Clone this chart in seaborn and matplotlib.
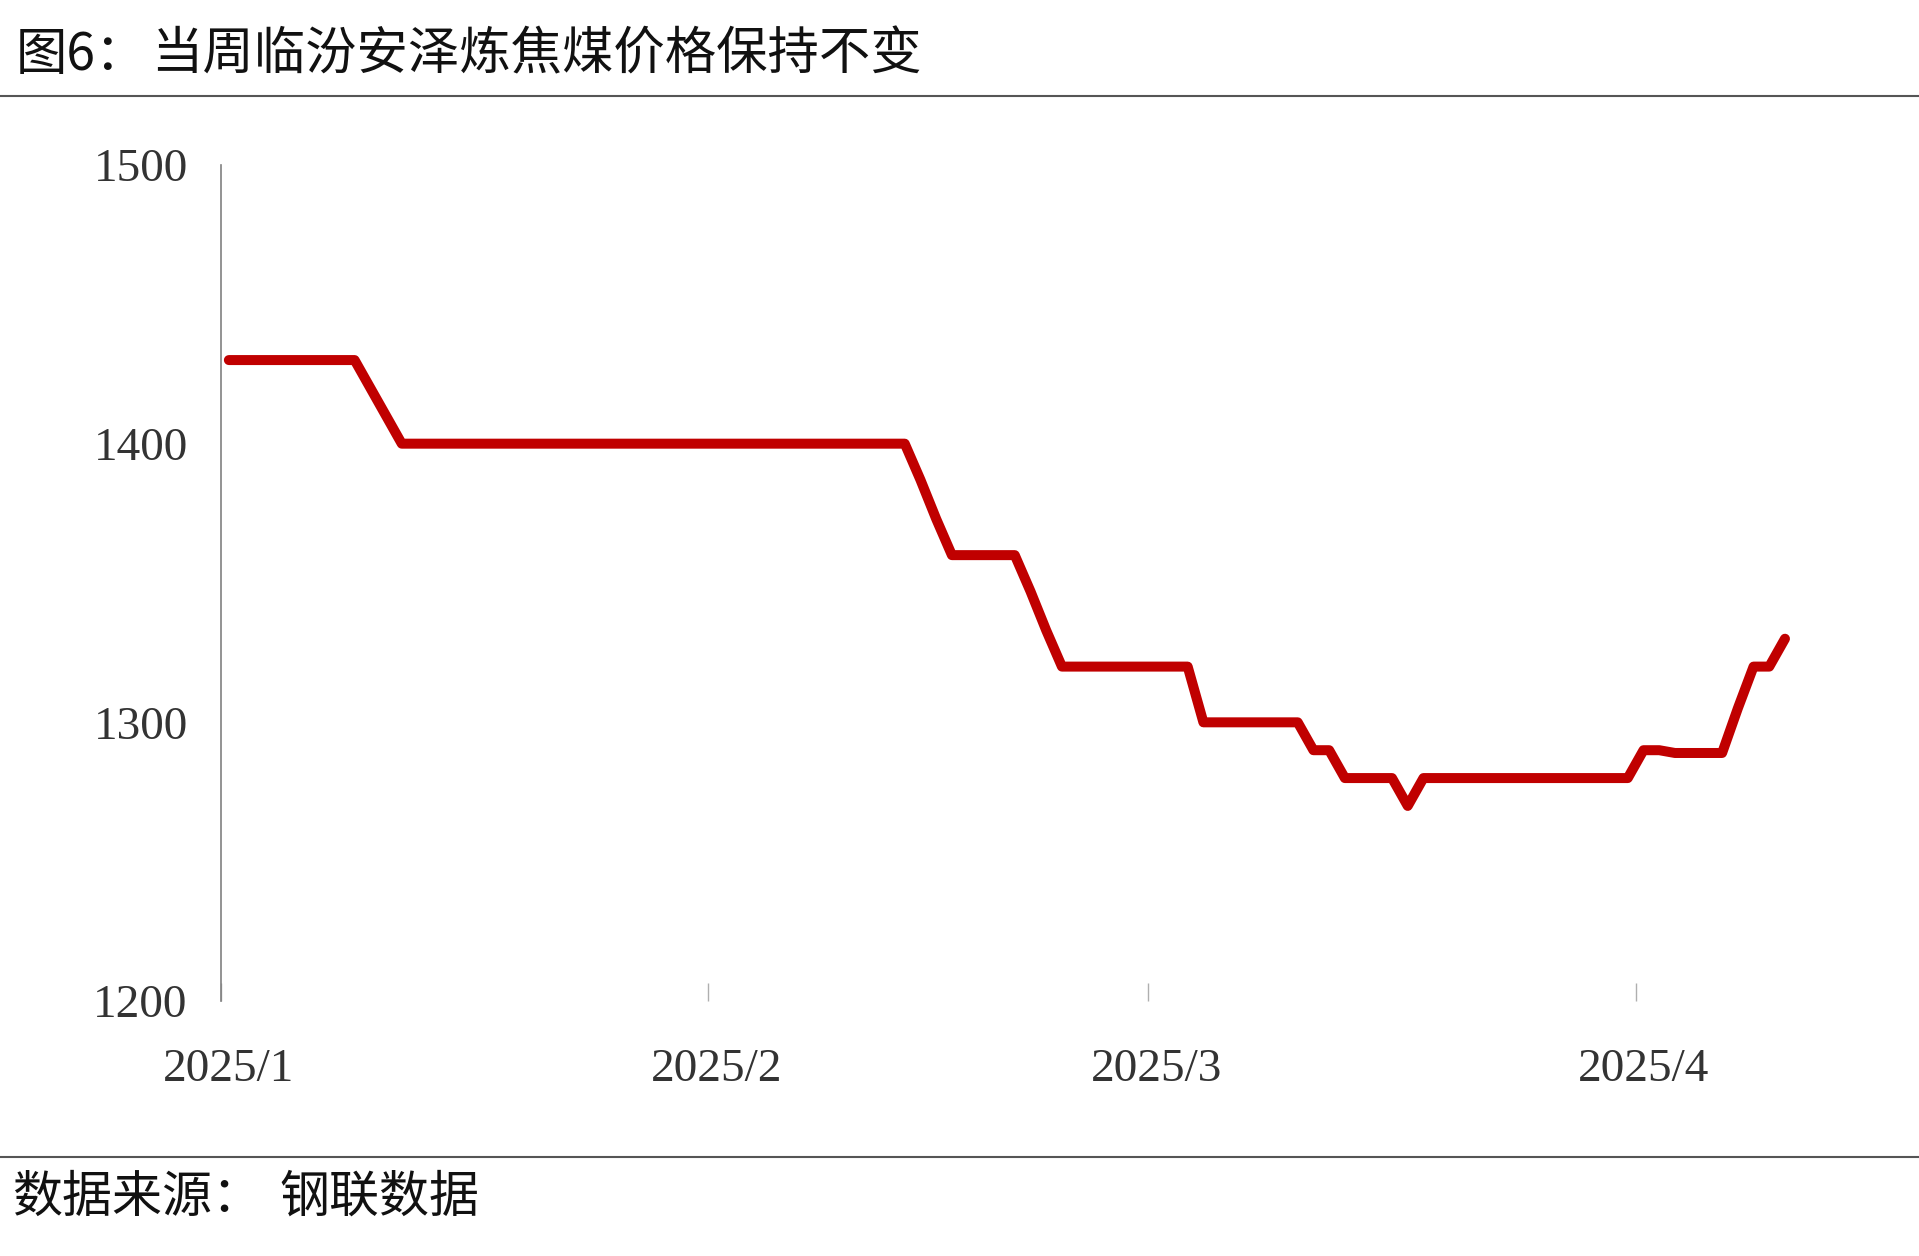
import numpy as np
import pandas as pd
import matplotlib
matplotlib.use("Agg")
import matplotlib.pyplot as plt
import matplotlib.dates as mdates
from matplotlib.lines import Line2D
import seaborn as sns

# ---------------- data ----------------
title_prefix = "图6："
title_text = "当周临汾安泽炼焦煤价格保持不变"
source_prefix = "数据来源："
source_text = "钢联数据"

start_date = "2025-01-01"
end_date = "2025-04-10"

# daily price (yuan/ton), 2025-01-01 .. 2025-04-10
prices = [
    1430, 1430, 1430, 1430, 1430, 1430, 1430, 1430, 1430,          # Jan 1-9
    1420, 1410,                                                    # Jan 10-11
    1400, 1400, 1400, 1400, 1400, 1400, 1400, 1400, 1400, 1400,    # Jan 12-21
    1400, 1400, 1400, 1400, 1400, 1400, 1400, 1400, 1400, 1400,    # Jan 22-31
    1400, 1400, 1400, 1400, 1400, 1400, 1400, 1400, 1400, 1400,    # Feb 1-10
    1400, 1400, 1400,                                              # Feb 11-13
    1387, 1373,                                                    # Feb 14-15
    1360, 1360, 1360, 1360, 1360,                                  # Feb 16-20
    1347, 1333,                                                    # Feb 21-22
    1320, 1320, 1320, 1320, 1320, 1320, 1320, 1320, 1320,          # Feb 23 - Mar 3
    1300, 1300, 1300, 1300, 1300, 1300, 1300,                      # Mar 4-10
    1290, 1290,                                                    # Mar 11-12
    1280, 1280, 1280, 1280,                                        # Mar 13-16
    1270,                                                          # Mar 17
    1280, 1280, 1280, 1280, 1280, 1280, 1280,                      # Mar 18-24
    1280, 1280, 1280, 1280, 1280, 1280, 1280,                      # Mar 25-31
    1290, 1290, 1289, 1289, 1289, 1289,                            # Apr 1-6
    1305, 1320, 1320, 1330,                                        # Apr 7-10
]

month_ticks = ["2025-01-01", "2025-02-01", "2025-03-01", "2025-04-01"]
month_labels = ["2025/1", "2025/2", "2025/3", "2025/4"]
y_ticks = [1200, 1300, 1400, 1500]
y_labels = ["1200", "1300", "1400", "1500"]

dates = pd.date_range(start_date, end_date, freq="D")
df = pd.DataFrame({"date": dates, "price": prices})

# ---------------- style ----------------
sns.set_theme(style="white")
plt.rcParams["font.family"] = ["Noto Sans CJK SC", "DejaVu Sans"]

W, H = 1919, 1256
fig = plt.figure(figsize=(W / 100, H / 100), dpi=100)
fig.patch.set_facecolor("white")

ax_left, ax_right = 221, 1873
ax_top, ax_bottom = 165, 1001
ax = fig.add_axes([ax_left / W, 1 - ax_bottom / H,
                   (ax_right - ax_left) / W, (ax_bottom - ax_top) / H])
ax.set_facecolor("white")

sns.lineplot(data=df, x="date", y="price", ax=ax, color="#C00000",
             linewidth=7.2, solid_capstyle="round", solid_joinstyle="round")

# x axis: each day occupies a slot; points sit at the slot centre
x0 = mdates.date2num(pd.Timestamp(start_date)) - 0.5
ax.set_xlim(x0, x0 + 105.1)
ax.set_ylim(1200, 1500)

tick_nums = [mdates.date2num(pd.Timestamp(d)) for d in month_ticks]
ax.set_xticks(tick_nums)
ax.set_xticklabels(month_labels, fontfamily="Liberation Serif")
ax.set_xticks([t - 0.5 for t in tick_nums], minor=True)
ax.tick_params(axis="x", which="major", length=0, pad=34,
               labelsize=34, labelcolor="#333333")
ax.tick_params(axis="x", which="minor", direction="in", length=13,
               width=1.0, color="#AFAFAF", bottom=True)

ax.set_yticks(y_ticks)
ax.set_yticklabels(y_labels, fontfamily="Liberation Serif")
ax.tick_params(axis="y", length=0, pad=24, labelsize=34, labelcolor="#333333")

ax.set_xlabel("")
ax.set_ylabel("")
ax.grid(False)
for s in ["top", "right", "bottom"]:
    ax.spines[s].set_visible(False)
ax.spines["left"].set_color("#808080")
ax.spines["left"].set_linewidth(1.2)

# ---------------- title / source / rules ----------------
fig.text(16 / W, 1 - 55 / H, title_prefix, fontsize=37, ha="left", va="center",
         color="#111111")
fig.text(151 / W, 1 - 55 / H, title_text, fontsize=37, ha="left", va="center",
         color="#111111")

fig.add_artist(Line2D([0, 1], [1 - 96 / H, 1 - 96 / H], transform=fig.transFigure,
                      color="#555555", linewidth=1.5))
fig.add_artist(Line2D([0, 1], [1 - 1157 / H, 1 - 1157 / H], transform=fig.transFigure,
                      color="#555555", linewidth=1.5))

fig.text(12 / W, 1 - 1198 / H, source_prefix, fontsize=36, ha="left", va="center",
         color="#111111")
fig.text(279 / W, 1 - 1198 / H, source_text, fontsize=36, ha="left", va="center",
         color="#111111")

fig.savefig("out.png", dpi=100, facecolor="white")
